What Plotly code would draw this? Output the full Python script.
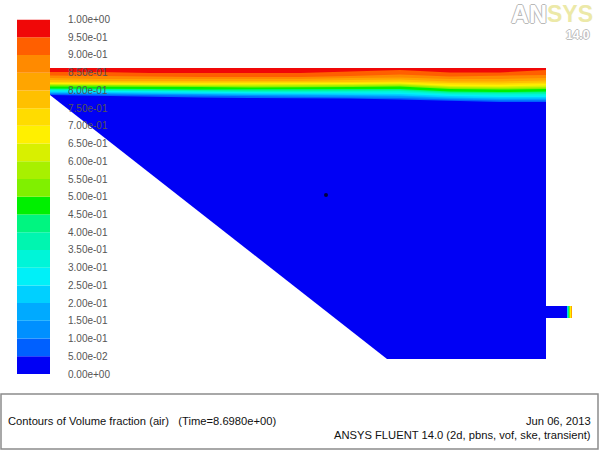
import plotly.graph_objects as go

W, H = 600, 450

# ---- legend scale ----
level_edges = [0.00, 0.05, 0.10, 0.15, 0.20, 0.25, 0.30, 0.35, 0.40, 0.45, 0.50,
               0.55, 0.60, 0.65, 0.70, 0.75, 0.80, 0.85, 0.90, 0.95, 1.00]
tick_labels = ["0.00e+00", "5.00e-02", "1.00e-01", "1.50e-01", "2.00e-01", "2.50e-01", "3.00e-01",
               "3.50e-01", "4.00e-01", "4.50e-01", "5.00e-01", "5.50e-01", "6.00e-01", "6.50e-01",
               "7.00e-01", "7.50e-01", "8.00e-01", "8.50e-01", "9.00e-01", "9.50e-01", "1.00e+00"]
band_colors = ["#0000f5", "#0060ff", "#0090ff", "#00aaff", "#00d0ff", "#00f0f8", "#00f5d8", "#00f5b0",
               "#00f580", "#00f000", "#80f000", "#a8f000", "#d8f000", "#fff000", "#ffdc00", "#ffc000",
               "#ffa500", "#ff8a00", "#ff5f00", "#f00808"]

# ---- flow domain outline, in picture pixels ----
domain_x = [50, 546, 546, 387, 50]
domain_y = [68, 68, 359, 359, 95]
pipe_x = [546, 572, 572, 546]
pipe_y = [306, 306, 318, 318]
pipe_band_x = [567, 568, 569, 570, 571, 572]
pipe_band_colors = ["#00d0ff", "#00f580", "#80f000", "#fff000", "#ffa500"]

# ---- air/water interface: y of each contour level at each x station ----
stations = [50, 100, 150, 200, 250, 300, 350, 400, 450, 500, 546]
top_edge = [68, 68, 68, 68, 68, 68, 68, 68, 68, 68, 68]
level_y = {
    0.05: [95.0, 96.0, 97.0, 97.5, 98.0, 98.0, 98.5, 99.5, 101.0, 102.0, 102.0],
    0.10: [94.0, 94.5, 95.5, 96.0, 96.5, 96.5, 97.0, 98.0, 99.5, 100.5, 100.5],
    0.15: [93.0, 93.5, 94.5, 95.0, 95.5, 95.5, 96.0, 96.5, 98.5, 99.5, 99.5],
    0.20: [92.5, 93.0, 93.5, 94.5, 94.5, 94.5, 95.0, 95.5, 97.5, 98.5, 98.5],
    0.25: [91.5, 92.0, 92.5, 93.0, 93.5, 93.5, 93.5, 94.0, 96.0, 97.0, 97.0],
    0.30: [90.5, 91.0, 91.5, 92.0, 92.5, 92.5, 92.5, 92.5, 94.5, 95.5, 95.5],
    0.35: [90.0, 90.5, 90.5, 91.0, 91.5, 91.5, 91.5, 91.0, 93.5, 94.0, 94.0],
    0.40: [89.0, 89.5, 90.0, 90.0, 90.5, 90.5, 90.5, 90.0, 92.5, 93.0, 92.5],
    0.45: [88.5, 88.5, 89.0, 89.5, 89.5, 89.5, 89.5, 89.0, 91.5, 92.0, 91.5],
    0.50: [86.5, 86.5, 87.0, 87.0, 87.5, 87.5, 87.0, 86.5, 89.0, 89.5, 89.0],
    0.55: [85.0, 85.5, 86.0, 86.5, 86.5, 86.5, 86.0, 85.5, 88.0, 88.5, 88.0],
    0.60: [84.5, 85.0, 85.0, 85.5, 85.5, 85.5, 85.0, 84.5, 87.0, 87.5, 87.0],
    0.65: [84.0, 84.5, 84.5, 84.5, 84.5, 84.5, 84.0, 83.5, 86.0, 86.5, 85.5],
    0.70: [83.0, 83.5, 83.5, 83.5, 83.5, 83.5, 83.0, 82.5, 84.5, 85.0, 84.0],
    0.75: [82.0, 82.5, 82.5, 82.5, 82.5, 82.5, 82.0, 81.5, 83.0, 83.5, 82.5],
    0.80: [80.0, 81.0, 81.0, 81.0, 81.0, 81.0, 80.0, 79.5, 81.5, 81.5, 80.5],
    0.85: [78.0, 79.0, 79.0, 79.0, 79.0, 79.0, 78.0, 77.5, 79.0, 79.0, 78.0],
    0.90: [75.5, 76.0, 77.0, 77.0, 77.0, 77.0, 76.0, 74.5, 76.5, 76.0, 75.0],
    0.95: [72.0, 72.0, 73.0, 73.0, 73.0, 73.0, 71.5, 70.0, 72.5, 72.5, 70.0],
}

# ---- texts ----
footer_left = "Contours of Volume fraction (air)   (Time=8.6980e+00)"
footer_date = "Jun 06, 2013"
footer_right = "ANSYS FLUENT 14.0 (2d, pbns, vof, ske, transient)"
FONT = "Liberation Sans, Arial, sans-serif"

fig = go.Figure()

fig.add_trace(go.Scatter(x=domain_x, y=domain_y, mode="lines", fill="toself",
                         fillcolor=band_colors[0], line=dict(width=0), hoverinfo="skip"))
fig.add_trace(go.Scatter(x=pipe_x, y=pipe_y, mode="lines", fill="toself",
                         fillcolor=band_colors[0], line=dict(width=0), hoverinfo="skip"))

for i, lev in enumerate(sorted(level_y)):
    ys = level_y[lev]
    fig.add_trace(go.Scatter(x=stations + stations[::-1], y=ys + top_edge[::-1], mode="lines",
                             fill="toself", fillcolor=band_colors[i + 1], line=dict(width=0),
                             hoverinfo="skip"))

for i, c in enumerate(pipe_band_colors):
    x0, x1 = pipe_band_x[i], pipe_band_x[i + 1]
    fig.add_trace(go.Scatter(x=[x0, x1, x1, x0], y=pipe_y, mode="lines", fill="toself",
                             fillcolor=c, line=dict(width=0), hoverinfo="skip"))

speck_x, speck_y = [326], [195]
fig.add_trace(go.Scatter(x=speck_x, y=speck_y, mode="markers",
                         marker=dict(size=4, color="#000040"), hoverinfo="skip"))

fig.add_trace(go.Bar(x=[0] * 20, y=[level_edges[i + 1] - level_edges[i] for i in range(20)],
                     base=level_edges[:-1], marker=dict(color=band_colors, line=dict(width=0)),
                     width=1, xaxis="x2", yaxis="y2", hoverinfo="skip"))

fig.update_layout(
    width=W, height=H, margin=dict(l=0, r=0, t=0, b=0),
    autosize=False, showlegend=False, paper_bgcolor="white", plot_bgcolor="white", barmode="overlay",
    xaxis=dict(range=[0, W], visible=False, domain=[0, 1], automargin=False),
    yaxis=dict(range=[H, 0], visible=False, domain=[0, 1], automargin=False),
    xaxis2=dict(range=[-0.5, 0.5], visible=False, domain=[17 / W, 50 / W], anchor="y2", automargin=False),
    yaxis2=dict(range=[0, 1], domain=[(H - 374) / H, (H - 19.5) / H], anchor="x2", side="right",
                automargin=False,
                tickmode="array", tickvals=level_edges, ticktext=tick_labels, showgrid=False,
                zeroline=False, showline=False, ticks="", ticklabelstandoff=17,
                tickfont=dict(family=FONT, size=10, color="#555555")),
    shapes=[dict(type="rect", xref="x", yref="y", x0=1, x1=598, y0=394, y1=449,
                 line=dict(color="#8c8c8c", width=1.5), fillcolor="rgba(0,0,0,0)")],
    annotations=[
        dict(x=6, y=421, xref="x", yref="y", text=footer_left, showarrow=False, xanchor="left",
             yanchor="middle", font=dict(family=FONT, size=11.2, color="#111111")),
        dict(x=593, y=421, xref="x", yref="y", text=footer_date, showarrow=False, xanchor="right",
             yanchor="middle", font=dict(family=FONT, size=11.2, color="#111111")),
        dict(x=593, y=435, xref="x", yref="y", text=footer_right, showarrow=False, xanchor="right",
             yanchor="middle", font=dict(family=FONT, size=11.2, color="#111111")),
        dict(x=509, y=14, xref="x", yref="y", text="<b>AN</b>", showarrow=False, xanchor="left", yanchor="middle",
             font=dict(family="Liberation Sans", size=25, color="white",
                       shadow="-1px 0 #b8b8b8, 1px 0 #b8b8b8, 0 -1px #b8b8b8, 0 1px #b8b8b8")),
        dict(x=595, y=14, xref="x", yref="y", text="<b>SYS</b>", showarrow=False, xanchor="right", yanchor="middle",
             font=dict(family="Liberation Sans", size=23, color="#ece9a8")),
        dict(x=592, y=35, xref="x", yref="y", text="<b>14.0</b>", showarrow=False, xanchor="right", yanchor="middle",
             font=dict(family="Liberation Sans", size=12, color="white",
                       shadow="-1px 0 #bdbdbd, 1px 0 #bdbdbd, 0 -1px #bdbdbd, 0 1px #bdbdbd")),
    ],
)

fig.write_html("out.html", config={"displayModeBar": False},
               post_script="document.body.style.margin='0';document.documentElement.style.overflow='hidden';")
